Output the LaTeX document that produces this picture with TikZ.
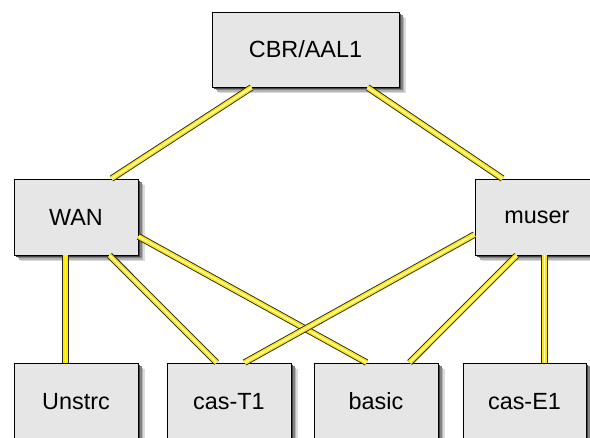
\documentclass[tikz,border=0pt]{standalone}
\usepackage{fontspec}
\setmainfont{Liberation Sans}
\usetikzlibrary{calc}
\definecolor{shA}{RGB}{220,220,220}
\definecolor{shB}{RGB}{180,180,180}
\definecolor{shC}{RGB}{130,130,130}
\definecolor{shD}{RGB}{70,70,70}
\definecolor{boxfill}{RGB}{230,230,230}
\definecolor{lineY}{RGB}{255,232,0}
\definecolor{lineC}{RGB}{255,250,200}
\tikzset{
  box/.style={draw=black, line width=0.9pt, fill=boxfill, inner sep=0pt,
    font=\fontsize{23.4}{27}\selectfont},
  conn/.style={line width=4.8pt, draw=lineY,
    preaction={draw=black!85, line width=6.6pt},
    postaction={draw=lineC, line width=1.4pt}}
}
\begin{document}
\begin{tikzpicture}[x=1pt,y=-1pt]
\useasboundingbox (0,0) rectangle (590,438);
% shadows
\foreach \xa/\ya/\xb/\yb in {212/12/399/87, 14/179/138/255, 475/179/599/255,
    14/363/138/440, 167/363/291/440, 314/363/438/440, 463/363/586/440}{
  \fill[shA] (\xa+6.5,\ya+6.5) rectangle (\xb+6.5,\yb+6.5);
  \fill[shB] (\xa+5,\ya+5) rectangle (\xb+5,\yb+5);
  \fill[shC] (\xa+3.5,\ya+3.5) rectangle (\xb+3.5,\yb+3.5);
  \fill[shD] (\xa+2,\ya+2) rectangle (\xb+2,\yb+2);
}
\node[box, minimum width=187pt, minimum height=75pt] (cbr) at (305.5,49.5) {CBR/AAL1};
\node[box, minimum width=124pt, minimum height=76pt] (wan) at (76,217) {WAN};
\node[box, minimum width=124pt, minimum height=76pt] (muser) at (537,217) {muser};
\node[box, minimum width=124pt, minimum height=77pt] (unstrc) at (76,401.5) {Unstrc};
\node[box, minimum width=124pt, minimum height=77pt] (cast1) at (229,401.5) {cas-T1};
\node[box, minimum width=124pt, minimum height=77pt] (basic) at (376,401.5) {basic};
\node[box, minimum width=123pt, minimum height=77pt] (case1) at (524.5,401.5) {cas-E1};
\draw[conn] ($(cbr.south west)+(40,0)$) -- ($(wan.north west)+(98,0)$);
\draw[conn] ($(cbr.south west)+(156,0)$) -- ($(muser.north west)+(28,0)$);
\draw[conn] ($(wan.south west)+(52,0)$) -- ($(unstrc.north west)+(52,0)$);
\draw[conn] ($(wan.south west)+(96,0)$) -- ($(cast1.north west)+(50,0)$);
\draw[conn] ($(wan.north east)+(0,58)$) -- ($(basic.north west)+(53,0)$);
\draw[conn] ($(muser.north west)+(0,56)$) -- ($(cast1.north west)+(78,0)$);
\draw[conn] ($(muser.south west)+(42,0)$) -- ($(basic.north west)+(96,0)$);
\draw[conn] ($(muser.south west)+(70,0)$) -- ($(case1.north west)+(82,0)$);
\end{tikzpicture}
\end{document}
